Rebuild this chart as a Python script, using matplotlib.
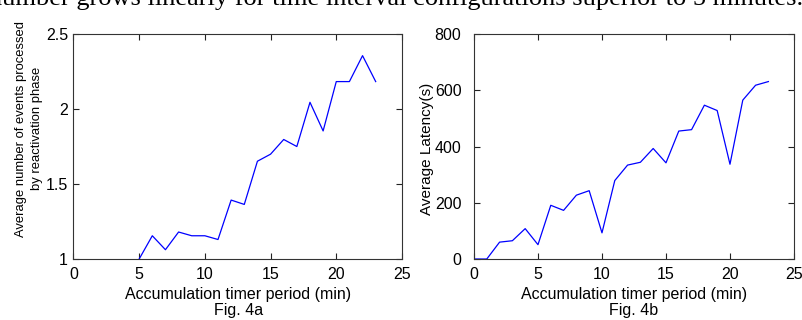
import matplotlib
matplotlib.use("Agg")
import matplotlib.pyplot as plt
from matplotlib import font_manager

# data
x_events = [5, 6, 7, 8, 9, 10, 11, 12, 13, 14, 15, 16, 17, 18, 19, 20, 21, 22, 23]
events = [1.0, 1.155, 1.062, 1.18, 1.155, 1.155, 1.13, 1.393, 1.364, 1.652,
          1.699, 1.797, 1.75, 2.045, 1.854, 2.183, 2.183, 2.356, 2.183]

x_latency = list(range(0, 24))
latency = [0, 0, 60, 65, 108, 51, 191, 173, 227, 243, 93, 279, 334, 344,
           393, 342, 455, 460, 547, 528, 337, 565, 618, 631]

xticks = [0, 5, 10, 15, 20, 25]
yticks_a = [1, 1.5, 2, 2.5]
ytick_labels_a = ["1", "1.5", "2", "2.5"]
yticks_b = [0, 200, 400, 600, 800]


def pick_font(names):
    for n in names:
        try:
            font_manager.findfont(n, fallback_to_default=False)
            return n
        except Exception:
            pass
    return "DejaVu Sans"


sans = pick_font(["Liberation Sans Narrow", "Liberation Sans", "Arial"])
serif = pick_font(["Liberation Serif", "DejaVu Serif"])

plt.rcParams['font.family'] = [sans, 'DejaVu Sans']
plt.rcParams['font.size'] = 11

fig = plt.figure(figsize=(8.02, 3.2), dpi=100)
fig.patch.set_facecolor("white")

ax1 = fig.add_axes([0.0916, 0.1906, 0.4096, 0.703])
ax2 = fig.add_axes([0.591, 0.1906, 0.399, 0.703])


def style(ax, ypad):
    ax.tick_params(direction="in", length=4, width=0.8, top=True, right=True,
                   colors="#222222", labelcolor="black", labelsize=11.5)
    ax.tick_params(axis="x", pad=6)
    ax.tick_params(axis="y", pad=ypad)
    for s in ax.spines.values():
        s.set_linewidth(0.8)
        s.set_color("#333333")
    ax.set_xlim(0, 25)
    ax.set_xticks(xticks)
    ax.set_xlabel("Accumulation timer period (min)", fontsize=11.5, labelpad=3)


ax1.plot(x_events, events, color="#0000ff", lw=0.9)
style(ax1, 4)
ax1.set_ylim(1, 2.5)
ax1.set_yticks(yticks_a)
ax1.set_yticklabels(ytick_labels_a)
ax1.set_ylabel("Average number of events processed\nby reactivation phase",
               fontsize=9.4, linespacing=1.45)
ax1.yaxis.set_label_coords(-0.093, 0.58)

ax2.plot(x_latency, latency, color="#0000ff", lw=0.9)
style(ax2, 9)
ax2.set_ylim(0, 800)
ax2.set_yticks(yticks_b)
ax2.set_ylabel("Average Latency(s)", fontsize=11)
ax2.yaxis.set_label_coords(-0.125, 0.49)

fig.text(0.297, 0.015, "Fig. 4a", ha="center", va="baseline", fontsize=11.5)
fig.text(0.790, 0.015, "Fig. 4b", ha="center", va="baseline", fontsize=11.5)

# clipped line of body text from the page above
fig.text(-0.014, 0.984, "number grows linearly for time interval configurations superior to 5 minutes.",
         ha="left", va="baseline", fontsize=19, family=serif)

fig.savefig("out.png", dpi=100, facecolor="white")
